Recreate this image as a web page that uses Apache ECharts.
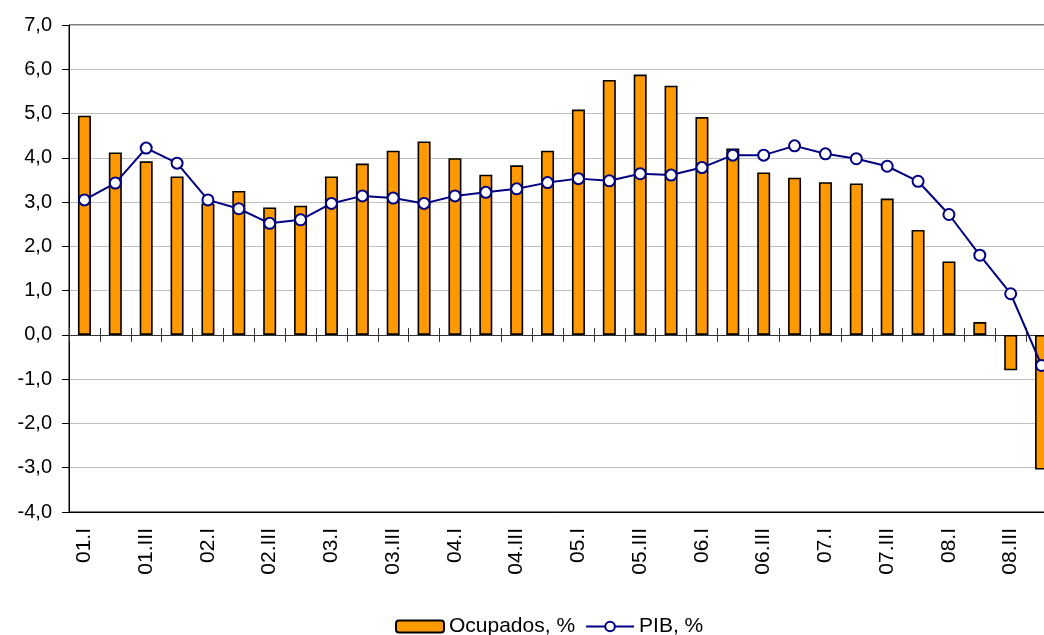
<!DOCTYPE html>
<html>
<head>
    <meta charset="UTF-8">
    <title>Ocupados y PIB</title>
    <script src="https://cdn.jsdelivr.net/npm/echarts@6/dist/echarts.min.js"></script>
    <style>
        *{margin:0;padding:0}
        html,body{width:100%;height:100%;background:#fff}
        #main{width:1044px;height:635px}
    </style>
</head>
<body>
    <div id="main"></div>
    <script type="text/javascript">
        // trimestres 2001-2008
        var quarters = [];
        var years = ['01','02','03','04','05','06','07','08'];
        var romans = ['I','II','III','IV'];
        years.forEach(function (y) {
            romans.forEach(function (r) { quarters.push(y + '.' + r); });
        });

        // variación interanual, %
        var ocupados = [4.95, 4.12, 3.92, 3.58, 2.97, 3.25, 2.88, 2.92,
                        3.58, 3.87, 4.16, 4.37, 3.99, 3.62, 3.83, 4.16,
                        5.09, 5.76, 5.88, 5.63, 4.92, 4.21, 3.67, 3.55,
                        3.45, 3.42, 3.08, 2.37, 1.66, 0.29, -0.80, -3.04];
        var pib = [3.05, 3.43, 4.22, 3.88, 3.05, 2.85, 2.52, 2.60,
                   2.97, 3.14, 3.09, 2.97, 3.14, 3.22, 3.30, 3.44,
                   3.53, 3.48, 3.64, 3.61, 3.78, 4.06, 4.06, 4.27,
                   4.09, 3.98, 3.81, 3.47, 2.72, 1.80, 0.93, -0.69];

        var yTicks = {min: -4, max: 7, step: 1};

        var fontFam = '"Liberation Sans", Arial, sans-serif';
        var myChart = echarts.init(document.getElementById('main'));

        // el área de trazado sigue más allá del borde derecho, como en el original
        var gridBox = {left: 69, width: 988, top: 25, height: 487, outerBoundsMode: 'none'};

        var option = {
            animation: false,
            textStyle: {fontFamily: fontFam},
            grid: [
                Object.assign({show: true, borderColor: '#000', borderWidth: 1}, gridBox),
                Object.assign({show: false}, gridBox)   // solo para las marcas bajo el cero
            ],
            legend: {
                left: 390, top: 611,
                itemWidth: 48, itemHeight: 12, itemGap: 10,
                textStyle: {fontSize: 21, color: '#000', fontFamily: fontFam},
                data: ['Ocupados, %', 'PIB, %']
            },
            xAxis: [
                {   // eje en cero, marcas hacia arriba
                    type: 'category', data: quarters, gridIndex: 0, position: 'bottom',
                    axisLine: {onZero: true, lineStyle: {color: '#333', width: 1}},
                    axisTick: {show: true, inside: true, length: 7, interval: 0, lineStyle: {color: '#333'}},
                    axisLabel: {show: false}, splitLine: {show: false}
                },
                {   // etiquetas abajo
                    type: 'category', data: quarters, gridIndex: 0, position: 'bottom',
                    axisLine: {show: true, onZero: false, lineStyle: {color: '#000'}},
                    axisTick: {show: false},
                    axisLabel: {interval: 1, rotate: 90, margin: 16, fontSize: 21, color: '#000'}
                },
                {   // marcas hacia abajo en el cero
                    type: 'category', data: quarters, gridIndex: 1, position: 'bottom',
                    axisLine: {show: false, onZero: true},
                    axisTick: {show: true, length: 7, interval: 0, lineStyle: {color: '#333'}},
                    axisLabel: {show: false}, splitLine: {show: false}
                }
            ],
            yAxis: [
                {
                    type: 'value', gridIndex: 0, min: yTicks.min, max: yTicks.max, interval: yTicks.step,
                    axisLine: {show: true, lineStyle: {color: '#000'}},
                    axisTick: {show: true, length: 7, lineStyle: {color: '#000'}},
                    axisLabel: {
                        fontSize: 20, color: '#000', margin: 17,
                        formatter: function (v) { return v.toFixed(1).replace('.', ','); }
                    },
                    splitLine: {show: true, lineStyle: {color: '#c0c0c0', width: 1}}
                },
                {
                    type: 'value', gridIndex: 1, min: yTicks.min, max: yTicks.max, interval: yTicks.step,
                    show: false
                }
            ],
            series: [
                {
                    name: 'Ocupados, %', type: 'bar', xAxisIndex: 0, yAxisIndex: 0,
                    barWidth: 13,
                    itemStyle: {color: '#ff9900', borderColor: '#000', borderWidth: 1.6},
                    data: ocupados
                },
                {
                    name: 'PIB, %', type: 'line', xAxisIndex: 0, yAxisIndex: 0,
                    symbol: 'circle', symbolSize: 11,
                    lineStyle: {color: '#000080', width: 2},
                    itemStyle: {color: '#fff', borderColor: '#000080', borderWidth: 2},
                    data: pib
                }
            ]
        };
        myChart.setOption(option);
    </script>
</body>
</html>
